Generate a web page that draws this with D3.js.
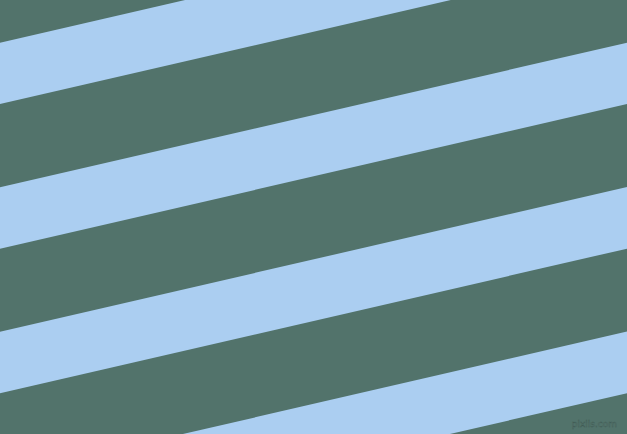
<!DOCTYPE html>
<html>
<head>
<meta charset="utf-8">
<script src="https://cdn.jsdelivr.net/npm/d3@7"></script>
<style>
  body { margin: 0; }
  svg { display: block; }
</style>
</head>
<body>
<div id="stripes"></div>
<script>
// stripe index and where its band starts/ends on the left edge
const stripeIndex = [-1, 0, 1, 2, 3];
const bandStart = [-101.8, 42.7, 187.3, 331.7, 476.2];
const bandEnd = [-40.2, 104.0, 248.7, 393.3, 537.8];
const slope = 0.2307;
const colors = ["#52736b", "#abcef1"];
const watermark = ["pixiis.com"];

const width = 627;
const height = 434;

const x = d3.scaleLinear().domain([0, 1]).range([0, width]);

const svg = d3.select("#stripes")
  .append("svg")
  .attr("width", width)
  .attr("height", height);

svg.append("rect")
  .attr("width", width)
  .attr("height", height)
  .attr("fill", colors[0]);

const line = d3.line();

stripeIndex.forEach((s, i) => {
  const drop = slope * width;
  const pts = [
    [x(0), bandStart[i]],
    [x(1), bandStart[i] - drop],
    [x(1), bandEnd[i] - drop],
    [x(0), bandEnd[i]]
  ];
  svg.append("path")
    .attr("d", line(pts) + "Z")
    .attr("fill", colors[1]);
});

svg.append("text")
  .attr("x", 617)
  .attr("y", 427)
  .attr("text-anchor", "end")
  .attr("font-family", "DejaVu Sans, sans-serif")
  .attr("font-size", 9)
  .attr("fill", "#6f8d86")
  .attr("stroke", "#3f5b54")
  .attr("stroke-width", 0.5)
  .text(watermark[0]);
</script>
</body>
</html>
